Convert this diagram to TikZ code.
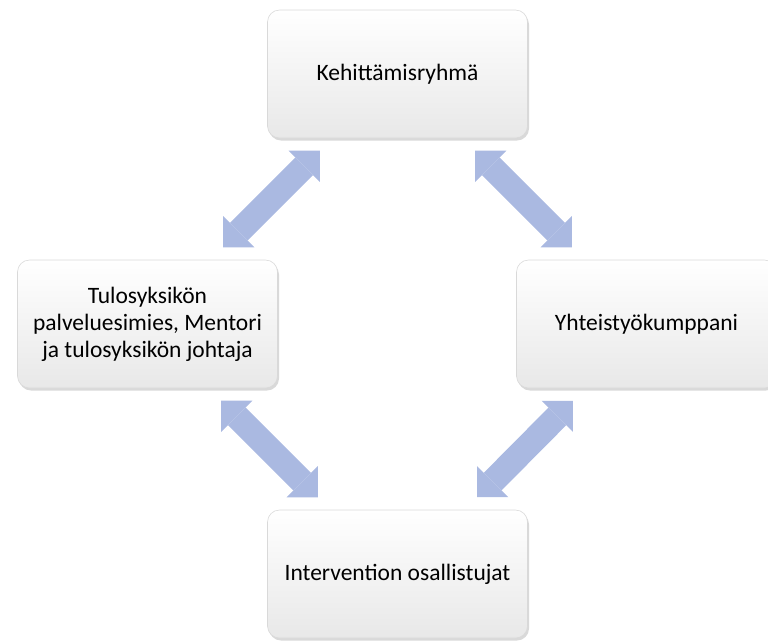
\documentclass[tikz,border=0pt]{standalone}
\usepackage{fontspec}
\setmainfont{Carlito}
\usepackage{xcolor}
\usepackage{tikz}
\usetikzlibrary{shapes,arrows.meta,positioning,shadows}
\definecolor{arrowfill}{RGB}{170,185,225}

\begin{document}
\begin{tikzpicture}[
    x=1pt, y=-1pt,
    font=\fontsize{23.5}{27}\selectfont,
    rolebox/.style={rectangle, rounded corners=12pt, draw=gray!30, line width=0.6pt, top color=white, bottom color=gray!18, minimum width=260pt, minimum height=128pt, align=center, outer sep=0pt, drop shadow={shadow xshift=1.5pt, shadow yshift=-2.5pt, opacity=0.3}},
    linkarrow/.style={draw=arrowfill, line width=25pt, shorten >=18pt, shorten <=18pt, {Triangle[width=44pt, length=22pt, line width=0pt 0]}-{Triangle[width=44pt, length=22pt, line width=0pt 0]}}
]
\useasboundingbox (0,0) rectangle (768,641);
\node[rolebox] (top) at (397.5,74) {Kehittämisryhmä};
\node[rolebox, below left=122pt and -10pt of top] (left) {Tulosyksikön\\palveluesimies, Mentori\\ja tulosyksikön johtaja};
\node[rolebox, below right=122pt and -11pt of top] (right) {Yhteistyökumppani};
\node[rolebox, below=372pt of top] (bottom) {Intervention osallistujat};
\draw[linkarrow] ([xshift=-65pt]top.south) -- ([xshift=63pt]left.north);
\draw[linkarrow] ([xshift=65pt]top.south) -- ([xshift=-62pt]right.north);
\draw[linkarrow] ([xshift=61pt]left.south) -- ([xshift=-67pt]bottom.north);
\draw[linkarrow] ([xshift=-61pt]right.south) -- ([xshift=67pt]bottom.north);
\end{tikzpicture}
\end{document}
